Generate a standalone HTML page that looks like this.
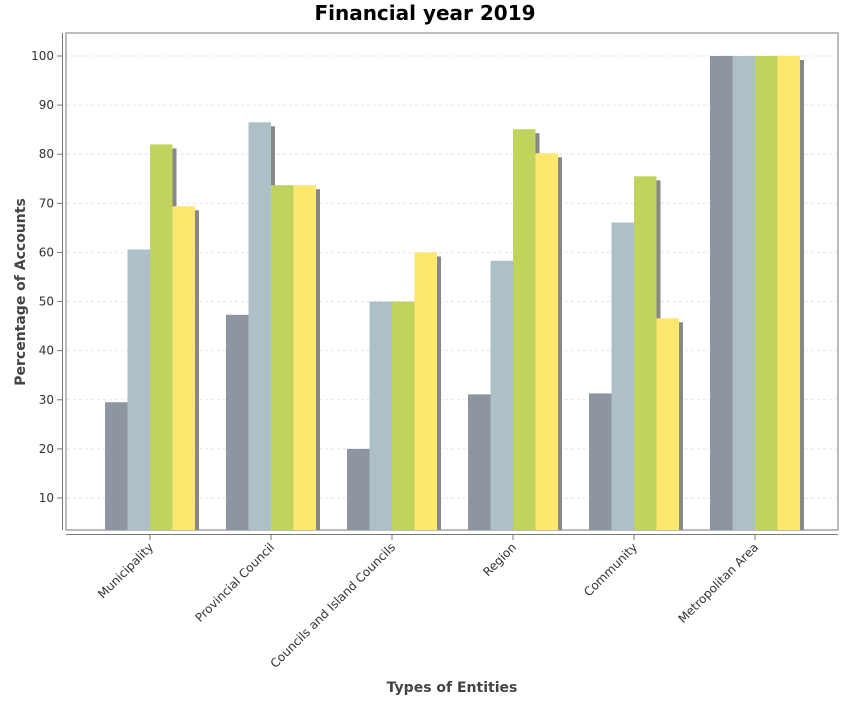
<!DOCTYPE html>
<html><head><meta charset="utf-8"><style>
body{margin:0;background:#fff;font-family:"DejaVu Sans","Liberation Sans",sans-serif;}
</style></head><body>
<svg id="chart" width="850" height="700" xmlns="http://www.w3.org/2000/svg">
<text x="425" y="20" text-anchor="middle" font-size="20" font-weight="bold" fill="#000">Financial year 2019</text>
<rect x="66" y="33" width="772" height="497" fill="none" stroke="#777" stroke-width="1"/>
<line x1="62.5" y1="33" x2="62.5" y2="530" stroke="#777"/>
<line x1="66" y1="534.5" x2="838" y2="534.5" stroke="#777"/>
<g id="grid"></g><g id="bars"></g><g id="yticks"></g><g id="xticks"></g>
<text transform="translate(25,292) rotate(-90)" text-anchor="middle" font-size="14" font-weight="bold" fill="#444">Percentage of Accounts</text>
<text x="452" y="692" text-anchor="middle" font-size="14" font-weight="bold" fill="#444">Types of Entities</text>
</svg>
<script>
const categories=["Municipality","Provincial Council","Councils and Island Councils","Region","Community","Metropolitan Area"];
const series1=[29.5,47.3,20,31.1,31.3,100];
const series2=[60.6,86.5,50,58.3,66.1,100];
const series3=[82,73.7,50,85.1,75.5,100];
const series4=[69.4,73.7,60,80.2,46.6,100];
const yTicks=[10,20,30,40,50,60,70,80,90,100];
const colors=["#8c95a0","#adc0c8","#bfd35d","#fde76e"];
const NS="http://www.w3.org/2000/svg";
const yScale=v=>498-(v-10)*4.911;
const xCenter=i=>150+i*121;
const bw=22.5, base=530;
function mk(t,a,p){const e=document.createElementNS(NS,t);for(const k in a)e.setAttribute(k,a[k]);p.appendChild(e);return e;}
const grid=document.getElementById('grid'),bars=document.getElementById('bars'),yt=document.getElementById('yticks'),xt=document.getElementById('xticks');
yTicks.forEach(v=>{const y=yScale(v);
const g=mk('line',{x1:67,x2:837,y1:y,y2:y,stroke:'#e6e6e6','stroke-dasharray':'3,3'},grid);


const tk=mk('line',{x1:57,x2:62,y1:y,y2:y,stroke:'#777'},yt);


const t=mk('text',{x:54,y:y+4,'text-anchor':'end','font-size':12,fill:'#333'},yt);
t.textContent=v;


});
const all=[series1,series2,series3,series4];
categories.forEach((c,i)=>{
const x0=xCenter(i)-2*bw;
all.forEach((s,j)=>{const y=yScale(s[i]);
const sh=mk('rect',{x:x0+j*bw+4,y:y+4,width:bw,height:base-y-4,fill:'#888'},bars);


});
all.forEach((s,j)=>{const y=yScale(s[i]);
const r=mk('rect',{x:x0+j*bw,y:y,width:bw,height:base-y,fill:colors[j]},bars);


});
const cx=xCenter(i);
const tk=mk('line',{x1:cx,x2:cx,y1:535,y2:540,stroke:'#777'},xt);


const t=mk('text',{x:cx+4,y:548,'text-anchor':'end','font-size':12,fill:'#333',transform:`rotate(-45 ${cx+4} 548)`},xt);
t.textContent=c;


});
</script>
</body></html>
